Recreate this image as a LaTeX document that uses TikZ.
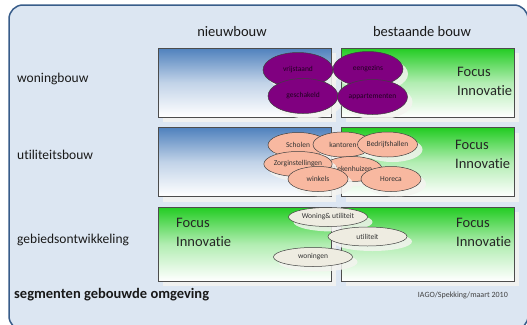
\documentclass[tikz,border=0pt]{standalone}
\usepackage{fontspec}
\setmainfont{Carlito}[Ligatures=NoCommon]
\usetikzlibrary{shapes.geometric,shadows}
\definecolor{framefill}{RGB}{220,230,242}
\definecolor{frameline}{RGB}{56,93,138}
\definecolor{newblue}{RGB}{79,129,189}
\definecolor{oldgreen}{RGB}{34,204,34}
\definecolor{plum}{RGB}{128,0,128}
\definecolor{salmon}{RGB}{248,184,160}
\definecolor{sand}{RGB}{238,236,225}
\definecolor{shadowgray}{RGB}{244,244,240}
\tikzset{
  softshadow/.style={drop shadow={fill=shadowgray,opacity=0.85,shadow xshift=5pt,shadow yshift=-5pt}},
  panel/.style={draw=black!70, line width=0.6pt, minimum width=173pt, minimum height=69pt, inner sep=0pt, softshadow},
  bluepanel/.style={panel, top color=newblue, bottom color=white, middle color=newblue!35!white},
  greenpanel/.style={panel, top color=oldgreen, bottom color=white, middle color=oldgreen!35!white},
  colhead/.style={inner sep=0pt, text=black!90, font=\fontsize{14.5}{17}\selectfont},
  rowhead/.style={anchor=west, inner sep=0pt, text=black!90, font=\fontsize{13.5}{16}\selectfont},
  focus/.style={anchor=west, align=left, inner sep=0pt, text=black!85, font=\fontsize{14.5}{19}\selectfont},
  blob/.style={ellipse, draw=black!75, line width=0.5pt, inner sep=0pt, text=black!80, font=\fontsize{7.5}{9}\selectfont, softshadow},
  woonblob/.style={blob, fill=plum, text=black!75!plum, minimum width=70pt, minimum height=35pt},
  utilblob/.style={blob, fill=salmon, minimum width=60pt, minimum height=25pt},
  gebiedblob/.style={blob, fill=sand, minimum width=79pt, minimum height=19pt}
}
\begin{document}
\begin{tikzpicture}[x=1pt,y=-1pt]
  \clip (0,0) rectangle (527,324);
  \fill[white] (0,0) rectangle (527,324);
  \draw[draw=frameline,fill=framefill,line width=1.5pt,rounded corners=14pt] (9,5) rectangle (528,330);
  % kolommen en rijen
  \node[colhead] (nieuw) at (232,32) {nieuwbouw};
  \node[colhead] (bestaand) at (422,32) {bestaande bouw};
  \node[rowhead] (woning) at (17,79) {woningbouw};
  \node[rowhead] (util) at (17,155) {utiliteitsbouw};
  \node[rowhead] (gebied) at (17,240) {gebiedsontwikkeling};
  % vlakken
  \node[bluepanel] (wn) at (244.5,82.5) {};
  \node[greenpanel] (wb) at (427.5,82.5) {};
  \node[bluepanel] (un) at (244.5,162) {};
  \node[greenpanel] (ub) at (427.5,162) {};
  \node[greenpanel,minimum height=74pt] (gn) at (244.5,244) {};
  \node[greenpanel,minimum height=74pt] (gb) at (427.5,244) {};
  \node[focus] (wbf) at (457,81.5) {Focus\\Innovatie};
  \node[focus] (ubf) at (455,154.5) {Focus\\Innovatie};
  \node[focus] (gnf) at (176,232.5) {Focus\\Innovatie};
  \node[focus] (gbf) at (456,232.5) {Focus\\Innovatie};
  % woningbouw
  \node[woonblob] (vrij) at (298,70) {vrijstaand};
  \node[woonblob] (eengez) at (368,69) {eengezins};
  \node[woonblob] (schak) at (303,96) {geschakeld};
  \node[woonblob] (appart) at (372.5,97) {appartementen};
  % utiliteitsbouw
  \node[utilblob] (schol) at (298,145) {Scholen};
  \node[utilblob] (kant) at (343,144.5) {kantoren};
  \node[utilblob] (bedr) at (387.5,144.5) {Bedrijfshallen};
  \node[utilblob] (zieken) at (352,169) {Ziekenhuizen};
  \node[utilblob,minimum width=62pt] (zorg) at (298,164) {Zorginstellingen};
  \node[utilblob] (wink) at (318,179) {winkels};
  \node[utilblob] (hor) at (391,179) {Horeca};
  % gebiedsontwikkeling
  \node[gebiedblob] (wonut) at (328,217) {Woning\& utiliteit};
  \node[gebiedblob] (utilit) at (367.5,236.5) {utiliteit};
  \node[gebiedblob] (wonin) at (313,257) {woningen};
  % onderschrift
  \node[anchor=west,inner sep=0pt,text=black!90,font=\bfseries\fontsize{14.5}{17}\selectfont] (titel) at (14,295) {segmenten gebouwde omgeving};
  \node[anchor=east,inner sep=0pt,text=black!75,font=\fontsize{8}{9}\selectfont] (bron) at (508,295) {IAGO/Spekking/maart 2010};
\end{tikzpicture}
\end{document}
